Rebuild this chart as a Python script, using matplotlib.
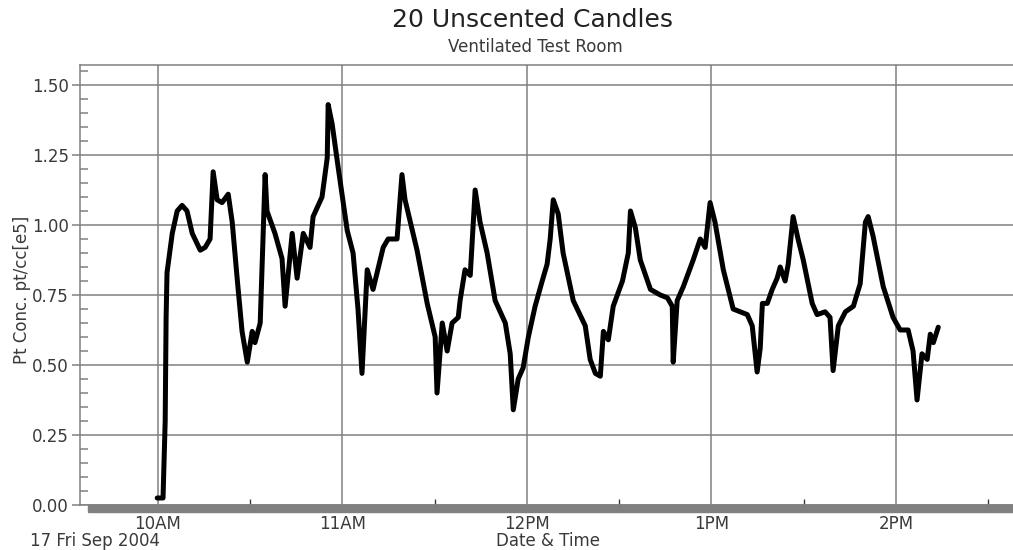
import matplotlib
matplotlib.use("Agg")
import matplotlib.pyplot as plt
from matplotlib.patches import Rectangle
from matplotlib.ticker import MultipleLocator, FixedLocator

# minutes after 10AM (17 Fri Sep 2004) and particle concentration (pt/cc, e5)
minutes = [-0.2, 1.7, 2.4, 2.7, 3.0, 4.7, 6.3, 7.9, 9.5, 11.2, 13.8, 15.4, 17.0, 18.0,
           19.3, 20.9, 22.9, 24.2, 25.8, 27.4, 29.1, 30.7, 31.6, 33.3, 34.9, 35.5, 38.1,
           40.4, 41.4, 43.7, 45.3, 47.3, 49.5, 50.5, 53.4, 55.1, 55.4, 56.7, 58.6, 61.6,
           63.5, 65.1, 66.4, 68.1, 70.0, 73.3, 74.9, 77.8, 79.4, 80.4, 84.3, 87.6, 90.2,
           90.8, 92.5, 94.1, 95.7, 97.7, 98.3, 99.9, 101.6, 103.2, 104.8, 107.1, 109.7,
           113.0, 114.6, 115.6, 117.2, 118.8, 120.5, 122.7, 125.0, 126.6, 127.6, 128.6,
           130.2, 131.8, 135.1, 139.0, 140.6, 142.3, 143.9, 144.9, 146.5, 148.1, 151.1,
           153.0, 153.7, 155.3, 156.9, 160.2, 163.4, 165.7, 167.3, 167.6, 168.9, 170.9,
           174.1, 176.4, 178.0, 179.6, 181.2, 183.9, 187.1, 191.7, 193.3, 194.9, 195.9,
           196.6, 198.2, 199.8, 201.4, 202.4, 204.0, 205.0, 206.6, 208.2, 209.9, 212.8,
           214.4, 217.0, 218.6, 219.6, 221.3, 223.6, 226.2, 228.4, 230.1, 231.0, 232.6,
           235.9, 239.1, 241.4, 244.0, 245.6, 246.9, 248.5, 250.2, 251.2, 252.2, 253.8]
conc = [0.025, 0.025, 0.30, 0.67, 0.83, 0.97, 1.05, 1.07, 1.05, 0.97, 0.91, 0.92, 0.95, 1.19,
        1.09, 1.08, 1.11, 1.01, 0.81, 0.62, 0.51, 0.62, 0.58, 0.65, 1.18, 1.05, 0.97,
        0.88, 0.71, 0.97, 0.81, 0.97, 0.92, 1.03, 1.10, 1.24, 1.43, 1.36, 1.21, 0.98,
        0.90, 0.70, 0.47, 0.84, 0.77, 0.92, 0.95, 0.95, 1.18, 1.09, 0.91, 0.72, 0.60,
        0.40, 0.65, 0.55, 0.65, 0.67, 0.73, 0.84, 0.82, 1.125, 1.01, 0.90, 0.73,
        0.65, 0.54, 0.34, 0.45, 0.49, 0.60, 0.71, 0.80, 0.86, 0.95, 1.09,
        1.04, 0.90, 0.73, 0.64, 0.52, 0.47, 0.46, 0.62, 0.59, 0.71, 0.80,
        0.90, 1.05, 0.99, 0.875, 0.77, 0.75, 0.74, 0.71, 0.51, 0.73, 0.78,
        0.875, 0.95, 0.92, 1.08, 1.01, 0.84, 0.70, 0.68, 0.64, 0.475, 0.56,
        0.72, 0.72, 0.77, 0.81, 0.85, 0.80, 0.86, 1.03, 0.95, 0.875, 0.72,
        0.68, 0.69, 0.67, 0.48, 0.64, 0.69, 0.71, 0.79, 1.01, 1.03, 0.96,
        0.78, 0.67, 0.625, 0.625, 0.55, 0.375, 0.54, 0.52, 0.61, 0.58, 0.635]

hour_ticks = [0, 60, 120, 180, 240]
hour_labels = ["10AM", "11AM", "12PM", "1PM", "2PM"]
half_hours = [-30, 30, 90, 150, 210, 270]

grey = "#808080"
txt = "#3a3a3a"
plt.rcParams["font.family"] = "DejaVu Sans"

fig = plt.figure(figsize=(10.13, 5.5), dpi=100)
ax = fig.add_axes([80 / 1013, 45 / 550, 933 / 1013, 440 / 550])

ax.plot(minutes, conc, color="black", lw=3.6, solid_joinstyle="round",
        solid_capstyle="round", zorder=3)

ax.set_xlim(-25.3, 278.1)
ax.set_ylim(0, 1.5714)

ax.xaxis.set_major_locator(FixedLocator(hour_ticks))
ax.set_xticklabels(hour_labels)
ax.xaxis.set_minor_locator(FixedLocator(half_hours))
ax.yaxis.set_major_locator(MultipleLocator(0.25))
ax.yaxis.set_minor_locator(MultipleLocator(0.05))
ax.yaxis.set_major_formatter(plt.FormatStrFormatter("%.2f"))

ax.grid(True, which="major", color=grey, lw=1.1)
ax.set_axisbelow(True)

ax.tick_params(axis="both", which="major", direction="out", length=6, width=1.1,
               color=grey, labelsize=12, labelcolor=txt, pad=2)
ax.tick_params(axis="x", which="major", pad=1)
ax.tick_params(axis="y", which="minor", direction="in", length=6, width=1.1, color=grey)
ax.tick_params(axis="x", which="minor", direction="in", length=4, width=1.0, color=txt)

for s in ["left", "top", "bottom"]:
    ax.spines[s].set_color(grey)
    ax.spines[s].set_linewidth(1.1)
ax.spines["right"].set_visible(False)

# grey base bar under the time axis
fig.add_artist(Rectangle((88 / 1013, 38 / 550), (1013 - 88) / 1013, 7 / 550,
                         transform=fig.transFigure, color=grey, zorder=-1))

fig.text(22 / 1013, 1 - 290 / 550, "Pt Conc. pt/cc[e5]", fontsize=12, color=txt,
         rotation=90, ha="center", va="center")
fig.text(548 / 1013, 1 - 541 / 550, "Date & Time", fontsize=12, color=txt,
         ha="center", va="center")
fig.text(30 / 1013, 1 - 541 / 550, "17 Fri Sep 2004", fontsize=12, color=txt,
         ha="left", va="center")
fig.text(532 / 1013, 1 - 20 / 550, "20 Unscented Candles", fontsize=18,
         color="#222222", ha="center", va="center")
fig.text(535 / 1013, 1 - 47 / 550, "Ventilated Test Room", fontsize=12,
         color=txt, ha="center", va="center")

fig.savefig("out.png", dpi=100)
